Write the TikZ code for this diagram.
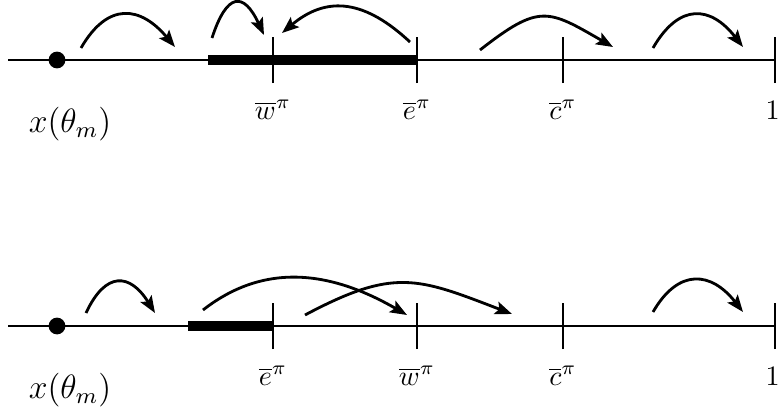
\documentclass[tikz,border=0pt]{standalone}
\usepackage{amsmath,amssymb}
\usetikzlibrary{arrows.meta,positioning}
\tikzset{
  numline/.style={line width=1pt},
  thick bar/.style={line width=3.8pt},
  tickmark/.style={line width=1pt},
  hop/.style={-{Stealth[length=6pt,width=4.6pt,inset=1.2pt]}, line width=1pt},
  dot/.style={circle, fill, inner sep=0pt, minimum size=2.1mm},
  lab/.style={anchor=base, inner sep=0pt},
}

\begin{document}
\begin{tikzpicture}[x=1.25cm, y=1.25cm]
  \useasboundingbox (0,0) rectangle (7.8,4.06);

  % Upper line
  \coordinate (la) at (0.08,3.46);
  \coordinate (ba) at (2.08,3.46);
  \coordinate (wa) at (2.73,3.46);
  \coordinate (ea) at (4.17,3.46);
  \coordinate (ca) at (5.63,3.46);
  \coordinate (onea) at (7.75,3.46);
  \draw[numline] (la) -- (onea);
  \draw[thick bar] (ba) -- (ea);
  \foreach \t in {wa,ea,ca,onea}
    \draw[tickmark] ([yshift=-2.9mm]\t) -- ([yshift=2.9mm]\t);
  \node[dot] (xa) at (0.57,3.46) {};

  % Lower line
  \coordinate (lb) at (0.08,0.80);
  \coordinate (bb) at (1.88,0.80);
  \coordinate (eb) at (2.73,0.80);
  \coordinate (wb) at (4.17,0.80);
  \coordinate (cb) at (5.63,0.80);
  \coordinate (oneb) at (7.75,0.80);
  \draw[numline] (lb) -- (oneb);
  \draw[thick bar] (bb) -- (eb);
  \foreach \t in {eb,wb,cb,oneb}
    \draw[tickmark] ([yshift=-2.9mm]\t) -- ([yshift=2.9mm]\t);
  \node[dot] (xb) at (0.57,0.80) {};

  % Labels
  \node[lab, font=\large] (xlaba) at (0.70,2.74) {$x(\theta_m)$};
  \node[lab] (wlaba) at ([yshift=-7.4mm]wa) {$\overline{w}^\pi$};
  \node[lab] (elaba) at ([yshift=-7.4mm]ea) {$\overline{e}^\pi$};
  \node[lab] (claba) at ([yshift=-7.4mm]ca) {$\overline{c}^\pi$};
  \node[lab] (onelaba) at ([xshift=-0.3mm,yshift=-7.4mm]onea) {$1$};
  \node[lab, font=\large] (xlabb) at (0.70,0.08) {$x(\theta_m)$};
  \node[lab] (elabb) at ([yshift=-7.4mm]eb) {$\overline{e}^\pi$};
  \node[lab] (wlabb) at ([yshift=-7.4mm]wb) {$\overline{w}^\pi$};
  \node[lab] (clabb) at ([yshift=-7.4mm]cb) {$\overline{c}^\pi$};
  \node[lab] (onelabb) at ([xshift=-0.3mm,yshift=-7.4mm]oneb) {$1$};

  % Upper jumps
  \coordinate (a1s) at (0.81,3.58); \coordinate (a1e) at (1.75,3.59);
  \coordinate (a2s) at (2.12,3.68); \coordinate (a2e) at (2.64,3.71);
  \coordinate (a3s) at (4.10,3.64); \coordinate (a3e) at (2.82,3.73);
  \coordinate (a4s) at (4.80,3.56); \coordinate (a4e) at (6.13,3.59);
  \coordinate (a5s) at (6.53,3.58); \coordinate (a5e) at (7.43,3.59);
  \draw[hop] (a1s) to[out=60, in=130, looseness=1.46] (a1e);
  \draw[hop] (a2s) to[out=72, in=115, looseness=2.36] (a2e);
  \draw[hop] (a3s) to[out=137, in=40, looseness=1.2] (a3e);
  \draw[hop] (a4s) to[out=38, in=150, looseness=1.45] (a4e);
  \draw[hop] (a5s) to[out=60, in=128, looseness=1.49] (a5e);

  % Lower jumps
  \coordinate (b1s) at (0.86,0.93); \coordinate (b1e) at (1.55,0.93);
  \coordinate (b2s) at (2.03,0.96); \coordinate (b2e) at (4.07,0.91);
  \coordinate (b3s) at (3.05,0.91); \coordinate (b3e) at (5.12,0.92);
  \coordinate (b4s) at (6.53,0.94); \coordinate (b4e) at (7.43,0.94);
  \draw[hop] (b1s) to[out=65, in=122, looseness=1.74] (b1e);
  \draw[hop] (b2s) to[out=38, in=150, looseness=1.03] (b2e);
  \draw[hop] (b3s) to[out=28, in=159, looseness=1.25] (b3e);
  \draw[hop] (b4s) to[out=60, in=128, looseness=1.46] (b4e);
\end{tikzpicture}
\end{document}
